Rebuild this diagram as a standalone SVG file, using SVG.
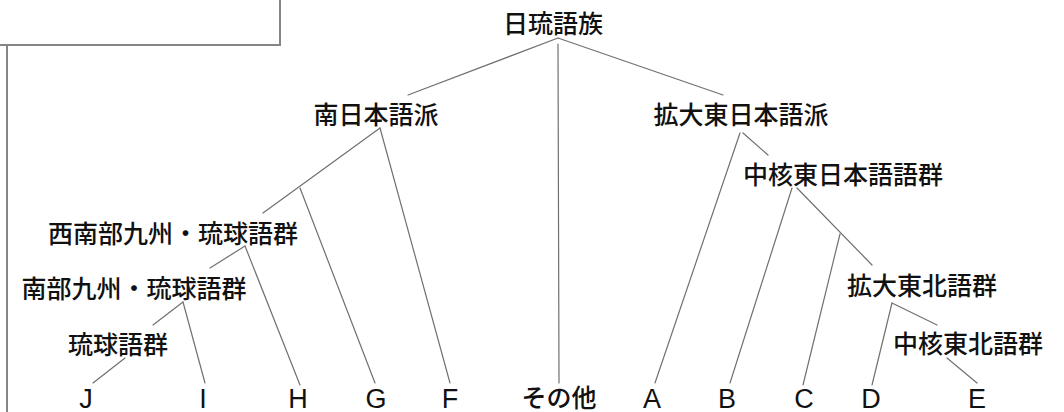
<svg xmlns="http://www.w3.org/2000/svg" width="1064" height="412" viewBox="0 0 1064 412">
<style>
.lbl{font-family:"Noto Sans CJK JP","Noto Sans CJK SC",sans-serif;font-size:25px;font-weight:500;fill:#111;text-anchor:middle;dominant-baseline:central}
.leaf{font-family:"Liberation Sans",Arial,sans-serif;font-size:27px;fill:#111;text-anchor:middle}
.edge{stroke:#707070;stroke-width:1.2;fill:none;stroke-linecap:round}
.frame{stroke:#858585;stroke-width:2;fill:none}
</style>
<rect width="1064" height="412" fill="#fff"/>
<g id="frame">
<rect class="frame" x="-3" y="-3" width="283" height="48"/>
<line class="frame" x1="7" y1="45" x2="7" y2="412"/>
</g>
<g id="connectors">
<line class="edge" x1="558" y1="38" x2="408" y2="95"/>
<line class="edge" x1="558" y1="38" x2="723" y2="95"/>
<line class="edge" x1="558" y1="44" x2="559" y2="383"/>
<line class="edge" x1="380" y1="128" x2="263" y2="213"/>
<line class="edge" x1="380" y1="128" x2="450" y2="383"/>
<line class="edge" x1="300" y1="188" x2="375" y2="383"/>
<line class="edge" x1="245" y1="246" x2="210" y2="268"/>
<line class="edge" x1="245" y1="246" x2="300" y2="385"/>
<line class="edge" x1="183" y1="302" x2="153" y2="325"/>
<line class="edge" x1="183" y1="302" x2="205" y2="383"/>
<line class="edge" x1="125" y1="358" x2="93" y2="383"/>
<line class="edge" x1="740" y1="133" x2="655" y2="383"/>
<line class="edge" x1="743" y1="133" x2="768" y2="155"/>
<line class="edge" x1="792" y1="188" x2="730" y2="383"/>
<line class="edge" x1="797" y1="188" x2="872" y2="265"/>
<line class="edge" x1="840" y1="234" x2="803" y2="385"/>
<line class="edge" x1="892" y1="303" x2="872" y2="385"/>
<line class="edge" x1="892" y1="303" x2="937" y2="325"/>
<line class="edge" x1="947" y1="358" x2="977" y2="383"/>
</g>
<g id="n-root"><text class="lbl" x="553" y="22">日琉語族</text></g>
<g id="n-south"><text class="lbl" x="376" y="113">南日本語派</text></g>
<g id="n-east"><text class="lbl" x="741" y="113">拡大東日本語派</text></g>
<g id="n-coreeast"><text class="lbl" x="843" y="173">中核東日本語語群</text></g>
<g id="n-swkyushu"><text class="lbl" x="173" y="232">西南部九州・琉球語群</text></g>
<g id="n-skyushu"><text class="lbl" x="134" y="287">南部九州・琉球語群</text></g>
<g id="n-ryukyu"><text class="lbl" x="118" y="343">琉球語群</text></g>
<g id="n-ne"><text class="lbl" x="922" y="284">拡大東北語群</text></g>
<g id="n-corene"><text class="lbl" x="968" y="342">中核東北語群</text></g>
<g id="n-other"><text class="lbl" x="559" y="396">その他</text></g>
<g id="n-J"><text class="leaf" x="86" y="408">J</text></g>
<g id="n-I"><text class="leaf" x="203" y="408">I</text></g>
<g id="n-H"><text class="leaf" x="298" y="408">H</text></g>
<g id="n-G"><text class="leaf" x="376" y="408">G</text></g>
<g id="n-F"><text class="leaf" x="450" y="408">F</text></g>
<g id="n-A"><text class="leaf" x="652" y="408">A</text></g>
<g id="n-B"><text class="leaf" x="727" y="408">B</text></g>
<g id="n-C"><text class="leaf" x="804" y="408">C</text></g>
<g id="n-D"><text class="leaf" x="871" y="408">D</text></g>
<g id="n-E"><text class="leaf" x="977" y="408">E</text></g>
</svg>
